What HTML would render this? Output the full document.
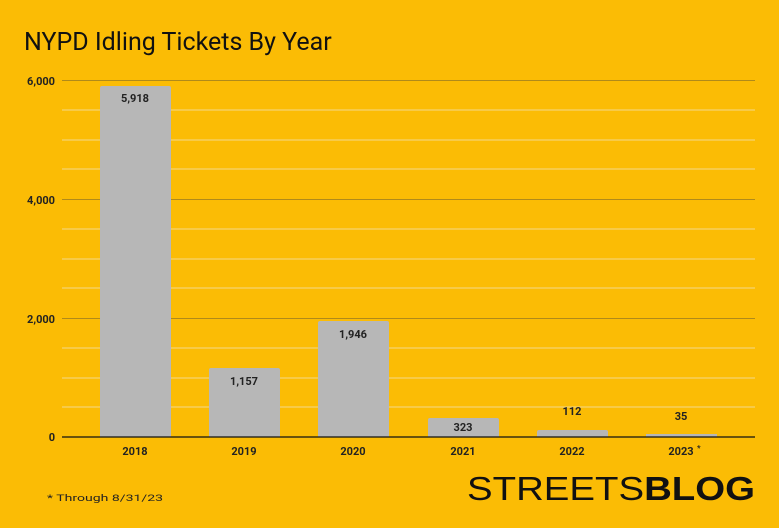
<!DOCTYPE html>
<html><head><meta charset="utf-8"><style>
body{margin:0;width:779px;height:523px;background:#FBBC05;overflow:hidden}
</style></head><body>
<svg width="779" height="523" xmlns="http://www.w3.org/2000/svg" font-family="Roboto, 'Liberation Sans', sans-serif">
<rect width="779" height="523" fill="#FBBC05"/>
<text x="24" y="50" font-size="25" fill="#111">NYPD Idling Tickets By Year</text>
<g stroke="#f3d98a" stroke-width="1">
<line x1="62" x2="755" y1="110" y2="110"/><line x1="62" x2="755" y1="140" y2="140"/><line x1="62" x2="755" y1="169" y2="169"/>
<line x1="62" x2="755" y1="229" y2="229"/><line x1="62" x2="755" y1="259" y2="259"/><line x1="62" x2="755" y1="288" y2="288"/>
<line x1="62" x2="755" y1="348" y2="348"/><line x1="62" x2="755" y1="378" y2="378"/><line x1="62" x2="755" y1="407" y2="407"/>
</g>
<g stroke="#b08a1a" stroke-width="1">
<line x1="62" x2="755" y1="80.5" y2="80.5"/><line x1="62" x2="755" y1="199.5" y2="199.5"/><line x1="62" x2="755" y1="318.5" y2="318.5"/>
</g>
<g font-size="11" font-weight="bold" fill="#222" text-anchor="end">
<text x="55" y="85">6,000</text><text x="55" y="204">4,000</text><text x="55" y="323">2,000</text><text x="55" y="441">0</text>
</g>
<g fill="#b7b7b7">
<path d="M100,437V88a2,2 0 0 1 2-2H169a2,2 0 0 1 2,2V437Z"/>
<path d="M209,437V370a2,2 0 0 1 2-2H278a2,2 0 0 1 2,2V437Z"/>
<path d="M318,437V323a2,2 0 0 1 2-2H387a2,2 0 0 1 2,2V437Z"/>
<path d="M428,437V420a2,2 0 0 1 2-2H497a2,2 0 0 1 2,2V437Z"/>
<path d="M537,437V432a2,2 0 0 1 2-2H606a2,2 0 0 1 2,2V437Z"/>
<rect x="646" y="434" width="71" height="3"/>
</g>
<line x1="62" x2="755" y1="437" y2="437" stroke="#111" stroke-width="1.2"/>
<g font-size="11" font-weight="bold" fill="#222" text-anchor="middle">
<text x="135" y="102">5,918</text><text x="244" y="385">1,157</text><text x="353" y="338">1,946</text>
<text x="463" y="431">323</text><text x="572" y="415">112</text><text x="681" y="420">35</text>
<text x="135" y="455">2018</text><text x="244" y="455">2019</text><text x="353" y="455">2020</text>
<text x="463" y="455">2021</text><text x="572" y="455">2022</text><text x="681" y="455">2023</text>
</g>
<text x="697" y="451" font-size="8" font-weight="bold" fill="#222">*</text>
<text x="47" y="501" font-size="9" fill="#222" textLength="116" lengthAdjust="spacingAndGlyphs">* Through 8/31/23</text>
<text x="467" y="500" font-size="33" fill="#111" font-family="'Liberation Sans', sans-serif" textLength="288" lengthAdjust="spacingAndGlyphs">STREETS<tspan font-weight="bold">BLOG</tspan></text>
</svg>
</body></html>
